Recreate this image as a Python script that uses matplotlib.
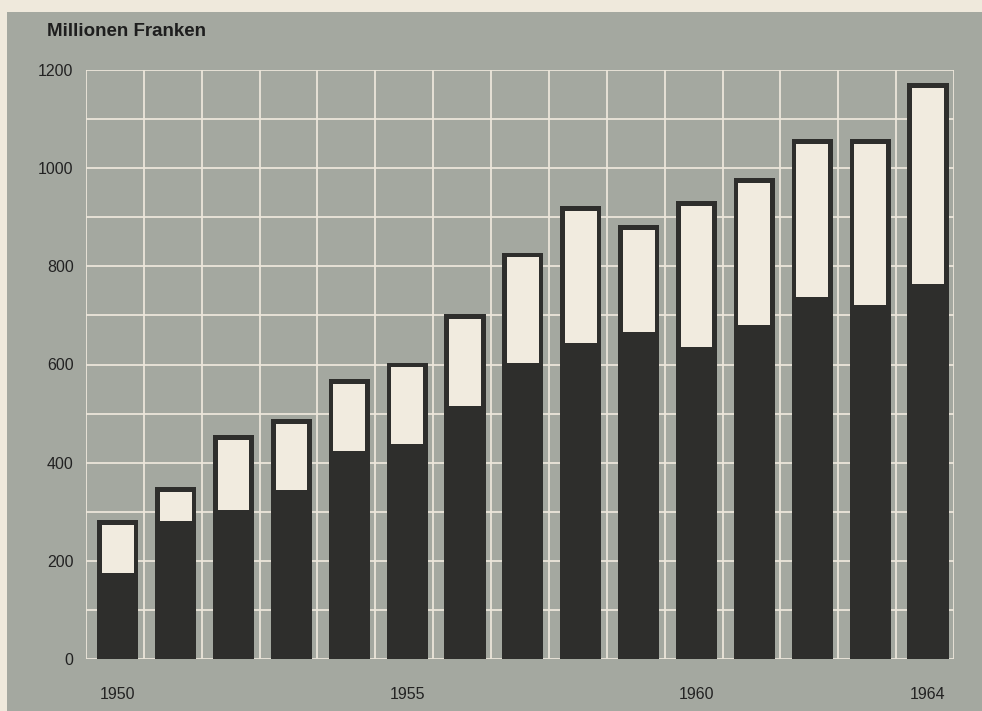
import matplotlib.pyplot as plt
from matplotlib.patches import Rectangle
from matplotlib.transforms import offset_copy

plt.rcParams['font.family'] = ['Liberation Sans', 'DejaVu Sans']

# values (Millionen Franken)
years = list(range(1950, 1965))
totals = [284, 351, 456, 488, 570, 604, 703, 828, 923, 885, 933, 980, 1060, 1060, 1174]
lower = [175, 282, 303, 345, 424, 439, 515, 603, 644, 666, 636, 680, 737, 722, 765]
year_labels = {1950: '1950', 1955: '1955', 1960: '1960', 1964: '1964'}

paper = '#efe9dc'
panel = '#a4a8a0'
grid_col = '#ece6da'
dark = '#2e2e2c'
cream = '#f1ebdf'

fig = plt.figure(figsize=(9.82, 7.11), dpi=100, facecolor=paper)
bg = Rectangle((7 / 982, 0), 1, 1 - 12 / 711, transform=fig.transFigure,
               facecolor=panel, edgecolor='none', zorder=-5)
fig.add_artist(bg)

ax = fig.add_axes([86 / 982, 52 / 711, 868 / 982, 589 / 711])
ax.set_facecolor(panel)
ax.set_xlim(-0.55, 14.45)
ax.set_ylim(0, 1200)

# grid: one column per year, lines every 100
for k in range(16):
    ax.axvline(k - 0.55, color=grid_col, lw=1.3, zorder=1)
for v in range(0, 1201, 100):
    ax.axhline(v, color=grid_col, lw=1.3, zorder=1)

x = list(range(len(years)))
bar_w = 0.71
inner_w = 0.55
top_gap = 10  # dark rim on top of the light part, in data units

ax.bar(x, totals, width=bar_w, color=dark, zorder=2)
ax.bar(x, [t - top_gap - l for t, l in zip(totals, lower)], bottom=lower,
       width=inner_w, color=cream, zorder=3)

for s in ax.spines.values():
    s.set_visible(False)
ax.tick_params(length=0)
ax.set_yticks(range(0, 1201, 200))
ax.set_yticklabels([str(v) for v in range(0, 1201, 200)], fontsize=11.5, color='#222222')
for lab in ax.get_yticklabels():
    lab.set_transform(offset_copy(lab.get_transform(), fig=fig, x=0, y=7, units='dots'))
ax.tick_params(axis='y', pad=9)
ax.set_xticks([years.index(y) for y in year_labels])
ax.set_xticklabels(list(year_labels.values()), fontsize=11.5, color='#222222')
ax.tick_params(axis='x', pad=20)

fig.text(47 / 982, 1 - 31 / 711, 'Millionen Franken', fontsize=13.5, fontweight='bold',
         color='#1e1e1e', va='center', ha='left')

fig.savefig('out.png', dpi=100, facecolor=paper)
